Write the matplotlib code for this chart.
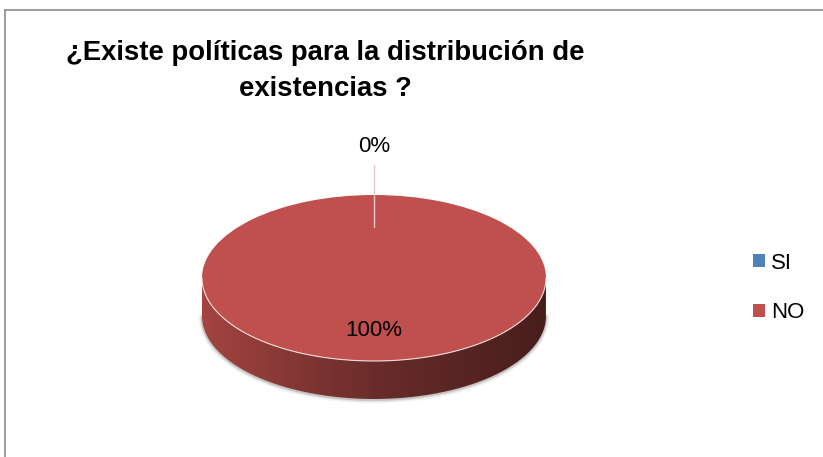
import numpy as np
import matplotlib.pyplot as plt
from matplotlib.colors import LinearSegmentedColormap, to_rgb
from matplotlib.patches import PathPatch, Patch
from matplotlib.path import Path
from matplotlib.lines import Line2D

title = "¿Existe políticas para la distribución de\nexistencias ?"
categories = ["SI", "NO"]
values = [0, 100]
colors = ["#4F81BD", "#C0504D"]

W, H = 823, 457
fig = plt.figure(figsize=(W / 100, H / 100), dpi=100)

# chart border (left and top visible)
fig.add_artist(Line2D([5 / W, 5 / W], [0, 1 - 10 / H], color="#8C8C8C", lw=1.2))
fig.add_artist(Line2D([5 / W, 1], [1 - 10 / H, 1 - 10 / H], color="#8C8C8C", lw=1.2))

fig.text(325 / W, 1 - 71 / H, title, ha="center", va="center", fontsize=19.8,
         fontweight="bold", family="Liberation Sans", linespacing=1.55)

# pie geometry in pixels
cx, cy, rx, ry, depth = 374, 278, 172, 83, 38
d = depth / ry
ax = fig.add_axes([(cx - rx) / W, (H - cy - ry - depth) / H, 2 * rx / W, (2 * ry + depth) / H])

wedges, _ = ax.pie(values, colors=colors, startangle=90, counterclock=False,
                   radius=1, center=(0, 0), wedgeprops=dict(edgecolor="none", zorder=3))
ax.set_aspect("auto")
ax.set_xlim(-1, 1)
ax.set_ylim(-1 - d, 1)
ax.axis("off")
for w in wedges:
    w.set_clip_on(False)

# side of the cylinder
t = np.linspace(np.pi, 2 * np.pi, 200)
xs = np.concatenate([np.cos(t), np.cos(t[::-1])])
ys = np.concatenate([np.sin(t), np.sin(t[::-1]) - d])
side = PathPatch(Path(np.column_stack([xs, ys])), facecolor="none", edgecolor="none",
                 transform=ax.transData)
ax.add_patch(side)
base = np.array(to_rgb(colors[1]))
cmap = LinearSegmentedColormap.from_list("side", [base * 0.85, base * 0.55, base * 0.37])
grad = np.linspace(0, 1, 256).reshape(1, -1)
im = ax.imshow(grad, cmap=cmap, extent=(-1, 1, -1 - d, 0), aspect="auto", zorder=2)
im.set_clip_path(side)
im.set_clip_on(True)

# soft shadow below the base
for lw, a in [(5, 0.08), (3, 0.15), (1.5, 0.3)]:
    ax.plot(np.cos(t), np.sin(t) - d - 0.01, color="#7F7F7F", lw=lw, alpha=a, zorder=1,
            solid_capstyle="round", clip_on=False)
# light rim of the top face
ax.plot(np.cos(t), np.sin(t), color="#F2DCDB", lw=0.8, zorder=4, clip_on=False)

# labels
total = sum(values)
ang = 90
label_pos = []
for v in values:
    mid = np.deg2rad(ang - v / total * 180)
    label_pos.append(mid)
    ang -= v / total * 360
# SI label (0%) outside with leader line
a0 = label_pos[0]
ax.plot([np.cos(a0) * 0, np.cos(a0) * 0], [0.61, 1.36], color="#E8C8C7", lw=1, zorder=5,
        clip_on=False)
ax.text(0, 1.58, f"{values[0] / total:.0%}", ha="center", va="center", fontsize=16,
        family="Liberation Sans", clip_on=False)
ax.text(0, -0.63, f"{values[1] / total:.0%}", ha="center", va="center", fontsize=16,
        family="Liberation Sans", zorder=6)

handles = [Patch(facecolor=c, edgecolor="none") for c in colors]
fig.legend(handles, categories, loc="center left", bbox_to_anchor=(733 / W, 1 - 288 / H),
           frameon=False, handlelength=0.55, handleheight=0.55,
           handletextpad=0.25, labelspacing=1.3, prop={"family": "Liberation Sans", "size": 16})

fig.savefig("out.png", dpi=100)
